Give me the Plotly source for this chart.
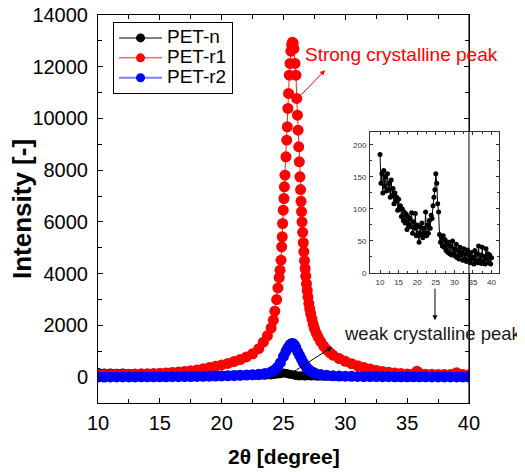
import plotly.graph_objects as go

# ---------------- data ----------------
series_names = ["PET-n", "PET-r1", "PET-r2"]

# PET-n : scan from 10 to 40 deg, 0.25 deg steps
petn_y = [
    185, 140, 155, 125,
    160, 135, 150, 128,
    155, 130, 140, 118,
    145, 120, 132, 108,
    125, 112, 118, 98,
    115, 100, 105, 88,
    100, 82, 95, 78,
    92, 68, 88, 75,
    85, 72, 94, 62,
    80, 70, 93, 58,
    75, 62, 48, 72,
    60, 78, 55, 70,
    62, 95, 58, 75,
    62, 82, 70, 90,
    85, 105, 118, 130,
    155, 140, 108, 95,
    60, 48, 55, 42,
    58, 40, 52, 35,
    45, 32, 48, 30,
    42, 28, 50, 30,
    38, 26, 45, 24,
    35, 22, 40, 28,
    32, 20, 38, 22,
    30, 18, 36, 20,
    28, 16, 32, 22,
    25, 14, 35, 18,
    30, 16, 42, 20,
    28, 15, 40, 18,
    26, 14, 38, 22,
    30, 16, 28, 14,
    24,
]
petn_x = [10 + 0.25 * i for i in range(len(petn_y))]

r1_x = [10, 10.5, 11, 11.5, 12, 12.5, 13, 13.5, 14, 14.5, 15, 15.5, 16, 16.5, 17, 17.5, 18,
        18.5, 19, 19.5, 20, 20.5, 21, 21.5, 22, 22.5, 23,
        23.37, 23.7, 24.0, 24.18, 24.3, 24.45, 24.55, 24.65, 24.72,
        24.80, 24.85, 24.90, 24.93, 24.98, 25.04, 25.07, 25.12, 25.20, 25.26,
        25.31, 25.36, 25.41, 25.47, 25.53, 25.60, 25.66, 25.72, 25.78, 25.84,
        25.93, 26.01, 26.07, 26.13, 26.18, 26.23, 26.28, 26.33,
        26.38, 26.42, 26.46, 26.50, 26.55, 26.60, 26.65, 26.70, 26.75, 26.80, 26.86,
        26.92, 26.98, 27.05, 27.12, 27.2, 27.3, 27.4, 27.5, 27.65, 27.8, 28.0,
        28.25, 28.5, 28.75, 29.0, 29.5, 30,
        30.5, 31, 31.5, 32, 32.5, 33, 33.5, 34, 34.5, 35, 35.5,
        35.8, 36.0, 36.5, 37, 37.5, 38, 38.5, 39, 39.5, 40]
r1_y = [100, 102, 105, 107, 110, 115, 120, 127, 135, 142, 150, 163, 180, 198, 220, 248, 280,
        320, 370, 420, 470, 530, 600, 680, 780, 900, 1100,
        1350, 1600, 1900, 2200, 2550, 3000, 3450, 3850, 4136,
        4522, 5036, 5423, 5940, 6455, 6906, 7356, 7808, 8516, 9160,
        9676, 10386, 10966, 11674, 12126, 12600, 12850, 12950, 12900, 12700,
        12126, 11674, 10773, 10128, 9548, 8902, 8322, 7742,
        7250, 6800, 6400, 6000, 5600, 5200, 4850, 4500, 4200, 3900, 3600,
        3350, 3100, 2850, 2650, 2450, 2250, 2050, 1880, 1700, 1550, 1380,
        1200, 1060, 950, 850, 720, 610,
        520, 440, 370, 310, 260, 220, 190, 160, 140, 125, 125,
        230, 140, 115, 110, 105, 100, 100, 170, 100, 95]

r2_x = [10, 10.5, 11, 11.5, 12, 12.5, 13, 13.5, 14, 14.5, 15, 15.5, 16, 16.5, 17, 17.5, 18,
        18.5, 19, 19.5, 20, 20.5, 21, 21.5, 22, 22.5, 23, 23.5, 24,
        24.25, 24.5, 24.75, 25.0, 25.2, 25.35, 25.5, 25.6, 25.7, 25.8, 25.9, 26.0,
        26.15, 26.3, 26.45, 26.6, 26.8, 27.0, 27.25, 27.5,
        28, 28.5, 29, 29.5, 30, 30.5, 31, 31.5, 32, 32.5, 33, 33.5, 34, 34.5, 35,
        35.5, 36, 36.5, 37, 37.5, 38, 38.5, 39, 39.5, 40]
r2_y = [5, 5, 6, 6, 7, 8, 9, 10, 11, 12, 13, 15, 17, 19, 21, 24, 27,
        31, 35, 40, 45, 52, 60, 70, 80, 92, 108, 140, 200,
        270, 380, 560, 800, 1000, 1130, 1230, 1280, 1300, 1290, 1230, 1140,
        980, 840, 700, 560, 420, 310, 220, 160,
        100, 70, 52, 42, 36, 32, 28, 25, 22, 20, 18, 16, 15, 14, 13,
        12, 11, 10, 9, 8, 8, 7, 6, 6, 5]

assert len(r1_x) == len(r1_y) and len(r2_x) == len(r2_y)

x_ticks = [10, 15, 20, 25, 30, 35, 40]
y_ticks = [0, 2000, 4000, 6000, 8000, 10000, 12000, 14000]
inset_x_ticks = [10, 15, 20, 25, 30, 35, 40]
inset_y_ticks = [0, 50, 100, 150, 200]

marker_colors = ["#000000", "#ff0000", "#0000ff"]
line_colors = ["#808080", "#ff2020", "#7f7fff"]
main_marker_sizes = [9, 11, 11]

FONT = "Liberation Sans, Arial, sans-serif"

# ---------------- figure ----------------
fig = go.Figure()
main_data = [(petn_x, petn_y), (r1_x, r1_y), (r2_x, r2_y)]
for (xs, ys), mc, lc, ms in zip(main_data, marker_colors, line_colors, main_marker_sizes):
    fig.add_trace(go.Scatter(x=xs, y=ys, mode="lines+markers",
                             marker=dict(color=mc, size=ms, line=dict(width=0)),
                             line=dict(color=lc, width=1),
                             showlegend=False, hoverinfo="skip"))

# legend entries (larger text, tight rows)
for name, mc, lc, lw in zip(series_names, marker_colors, line_colors, [2, 1, 2]):
    fig.add_trace(go.Scatter(x=[None], y=[None],
                             name='<span style="font-size:19px">' + name + '</span>',
                             mode="lines+markers",
                             marker=dict(color=mc, size=9),
                             line=dict(color=lc, width=lw)))

# inset
fig.add_trace(go.Scatter(x=petn_x, y=petn_y, xaxis="x2", yaxis="y2",
                         mode="lines+markers",
                         marker=dict(color="black", size=5),
                         line=dict(color="black", width=1),
                         showlegend=False, hoverinfo="skip"))

axis_common = dict(showline=True, linecolor="black", linewidth=1, mirror="allticks",
                   ticks="inside", tickcolor="black", tickwidth=1, showgrid=False,
                   zeroline=False, automargin=False, ticklabeloverflow="allow")
inset_common = {**axis_common, "linecolor": "#333", "tickcolor": "#333"}

# the page body adds an 8 px offset; figure is sized so the plot lands where the reference has it
fig.update_layout(
    width=517, height=464,
    margin=dict(l=90, r=20, t=7, b=69, pad=0, autoexpand=False),
    paper_bgcolor="white", plot_bgcolor="white",
    font=dict(family=FONT, size=19, color="black"),
    xaxis=dict(domain=[0, 0.9115], range=[10, 40], tickvals=x_ticks, ticklen=5,
               minor=dict(dtick=2.5, tick0=10, ticks="inside", ticklen=4, tickcolor="black"),
               tickfont=dict(size=20), ticklabelstandoff=2, **axis_common),
    yaxis=dict(domain=[0, 1], range=[-1000, 14000], tickvals=y_ticks, tickformat="d",
               ticklen=5,
               minor=dict(dtick=1000, tick0=0, ticks="inside", ticklen=4, tickcolor="black"),
               tickfont=dict(size=20), ticklabelstandoff=5, **axis_common),
    xaxis2=dict(domain=[0.6683, 0.9853], anchor="y2", range=[7.3, 42],
                tickvals=inset_x_ticks, ticklen=3,
                minor=dict(dtick=2.5, tick0=10, ticks="inside", ticklen=2, tickcolor="#333"),
                tickfont=dict(size=8, color="#333"), ticklabelstandoff=1, **inset_common),
    yaxis2=dict(domain=[0.335, 0.6985], anchor="x2", range=[0, 220],
                tickvals=inset_y_ticks, ticklen=3,
                minor=dict(dtick=25, tick0=0, ticks="inside", ticklen=2, tickcolor="#333"),
                tickfont=dict(size=8, color="#333"), ticklabelstandoff=1, **inset_common),
    legend=dict(x=0.0369, y=0.982, xanchor="left", yanchor="top",
                bordercolor="black", borderwidth=1, bgcolor="white",
                font=dict(size=13), itemwidth=43, tracegroupgap=0),
    showlegend=True,
)

# main right axis line runs over the inset, as in the reference
fig.add_shape(type="line", xref="paper", yref="paper", x0=0.9115, x1=0.9115, y0=0, y1=1,
              line=dict(color="black", width=1), layer="above")

ann = []
# axis titles
ann.append(dict(text="<b>2θ [degree]</b>", xref="paper", yref="paper", x=0.4558, y=-0.139,
                xanchor="center", yanchor="middle", showarrow=False, font=dict(size=21)))
ann.append(dict(text="<b>Intensity [-]</b>", xref="paper", yref="paper", x=-0.1867, y=0.5,
                xanchor="center", yanchor="middle", textangle=-90, showarrow=False,
                font=dict(size=26)))
# labels
ann.append(dict(text="Strong crystalline peak", xref="paper", yref="paper", x=0.504, y=0.897,
                xanchor="left", yanchor="middle", showarrow=False,
                font=dict(size=19, color="#ff0000")))
ann.append(dict(text="weak crystalline peak", xref="paper", yref="paper", x=0.600, y=0.180,
                xanchor="left", yanchor="middle", showarrow=False,
                font=dict(size=18.5, color="#1a1a1a")))
# arrows
ann.append(dict(text="", x=28.36, y=11867, xref="x", yref="y", ax=26.33, ay=10862,
                axref="x", ayref="y", showarrow=True, arrowhead=2, arrowsize=1,
                arrowwidth=1, arrowcolor="#ff0000"))
ann.append(dict(text="", x=28.92, y=1160, xref="x", yref="y", ax=25.77, ay=193,
                axref="x", ayref="y", showarrow=True, arrowhead=2, arrowsize=1,
                arrowwidth=1, arrowcolor="black"))
ann.append(dict(text="", x=37.25, y=2203, xref="x", yref="y", ax=37.25, ay=3479,
                axref="x", ayref="y", showarrow=True, arrowhead=2, arrowsize=1,
                arrowwidth=1, arrowcolor="black"))
fig.update_layout(annotations=ann)

fig.write_html("out.html")
